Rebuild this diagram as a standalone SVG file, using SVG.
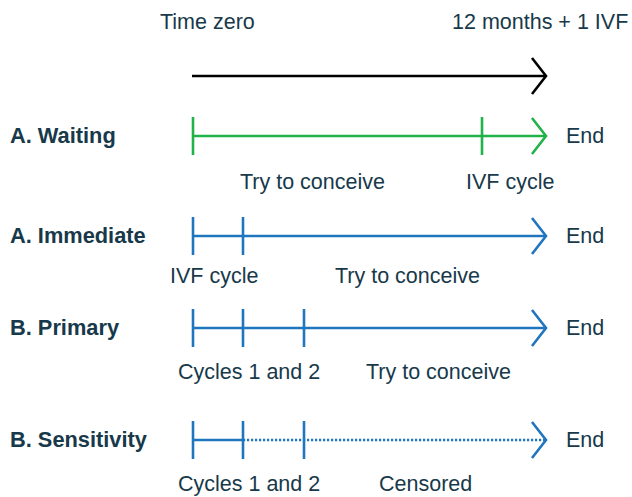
<svg xmlns="http://www.w3.org/2000/svg" width="632" height="497" viewBox="0 0 632 497">
<style>
text{font-family:"Liberation Sans",Arial,sans-serif;font-size:21.5px;fill:#17394a}
.b{font-weight:bold;font-size:21.8px}
.ln{fill:none;stroke-width:2.6;stroke-linecap:butt;stroke-linejoin:miter}
.k{stroke:#000}
.g{stroke:#1fb34a}
.u{stroke:#1f75be}
.dot{stroke-width:2.4;stroke-dasharray:2.2 1.8}
</style>
<rect width="632" height="497" fill="#fff"/>
<g id="header">
<text x="160" y="29">Time zero</text>
<text x="452" y="29">12 months + 1 IVF</text>
</g>
<g id="connectors">
<g id="axis">
<line class="ln k" x1="192" y1="76" x2="545" y2="76"/>
<polyline class="ln k" points="532,58 546,76 532,94"/>
</g>
<g id="waiting-line">
<line class="ln g" x1="193" y1="136" x2="545" y2="136"/>
<line class="ln g" x1="193" y1="117" x2="193" y2="155"/>
<line class="ln g" x1="482" y1="117" x2="482" y2="155"/>
<polyline class="ln g" points="532,118 546,136 532,154"/>
</g>
<g id="immediate-line">
<line class="ln u" x1="193" y1="236" x2="545" y2="236"/>
<line class="ln u" x1="193" y1="217" x2="193" y2="255"/>
<line class="ln u" x1="243" y1="217" x2="243" y2="255"/>
<polyline class="ln u" points="532,218 546,236 532,254"/>
</g>
<g id="primary-line">
<line class="ln u" x1="193" y1="328" x2="545" y2="328"/>
<line class="ln u" x1="193" y1="309" x2="193" y2="347"/>
<line class="ln u" x1="243" y1="309" x2="243" y2="347"/>
<line class="ln u" x1="304" y1="309" x2="304" y2="347"/>
<polyline class="ln u" points="532,310 546,328 532,346"/>
</g>
<g id="sensitivity-line">
<line class="ln u" x1="193" y1="440" x2="243" y2="440"/>
<line class="ln u dot" x1="243" y1="440" x2="545" y2="440"/>
<line class="ln u" x1="193" y1="421" x2="193" y2="459"/>
<line class="ln u" x1="243" y1="421" x2="243" y2="459"/>
<line class="ln u" x1="304" y1="421" x2="304" y2="459"/>
<polyline class="ln u" points="532,422 546,440 532,458"/>
</g>
</g>
<g id="waiting">
<text class="b" x="10" y="143">A. Waiting</text>
<text x="566" y="143">End</text>
<text x="240" y="189">Try to conceive</text>
<text x="466" y="189">IVF cycle</text>
</g>
<g id="immediate">
<text class="b" x="10" y="243">A. Immediate</text>
<text x="566" y="243">End</text>
<text x="170" y="283">IVF cycle</text>
<text x="335" y="283">Try to conceive</text>
</g>
<g id="primary">
<text class="b" x="10" y="335">B. Primary</text>
<text x="566" y="335">End</text>
<text x="178" y="379">Cycles 1 and 2</text>
<text x="366" y="379">Try to conceive</text>
</g>
<g id="sensitivity">
<text class="b" x="10" y="447">B. Sensitivity</text>
<text x="566" y="447">End</text>
<text x="178" y="491">Cycles 1 and 2</text>
<text x="379" y="491">Censored</text>
</g>
</svg>
